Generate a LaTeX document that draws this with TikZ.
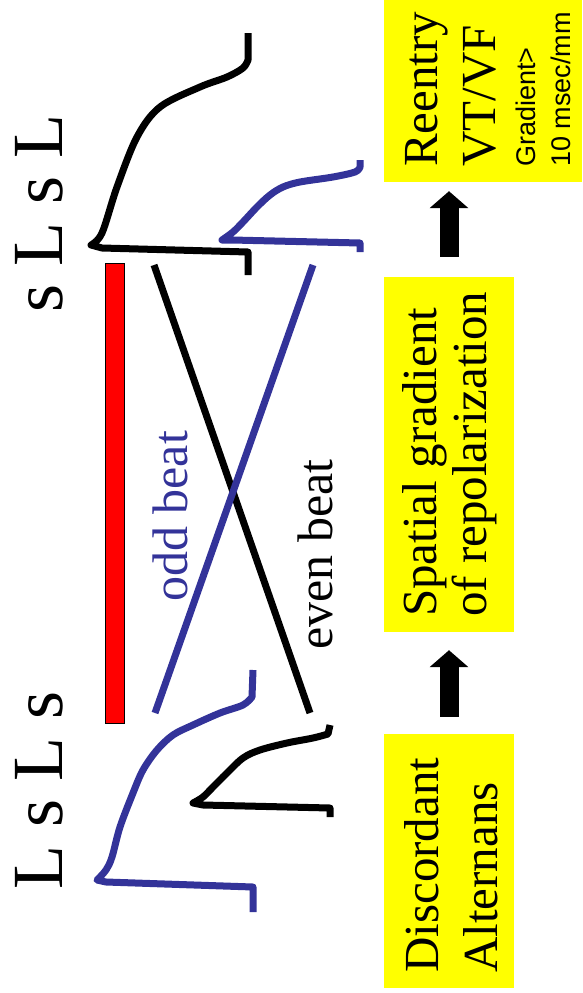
\documentclass[tikz,border=0pt]{standalone}
\usepackage{fontspec}
\setmainfont{Liberation Serif}
\newfontfamily\sansf{Liberation Sans}
\usetikzlibrary{arrows.meta}
\definecolor{apblue}{RGB}{51,51,153}
\definecolor{boxyellow}{RGB}{255,255,0}
\begin{document}
\begin{tikzpicture}[x=1pt,y=-1pt,
  trace/.style={line width=7pt, line join=round, line cap=butt},
  ybox/.style={fill=boxyellow, draw=none, inner sep=0pt, rectangle},
  vtext/.style={rotate=90, anchor=base west, inner sep=0pt},
  bigserif/.style={vtext, font=\fontsize{49}{49}\selectfont},
  smallsans/.style={vtext, font=\sansf\fontsize{27}{27}\selectfont},
  beatlabel/.style={vtext, font=\fontsize{50}{50}\selectfont},
  seqlabel/.style={vtext, font=\fontsize{72}{72}\selectfont},
  blockarrow/.style={line width=19pt, -{Triangle[length=17pt,width=38pt]}}
]
\useasboundingbox (0,0) rectangle (582,993);

% yellow text boxes
\node[ybox, minimum width=198pt, minimum height=182pt] (reentry) at (483,91) {};
\node[ybox, minimum width=130pt, minimum height=355pt] (spatial) at (449,454.5) {};
\node[ybox, minimum width=130pt, minimum height=254pt] (disc) at (449,861) {};

\node[bigserif] (t1) at (437,167) {Reentry};
\node[bigserif] (t2) at (495,167) {VT/VF};
\node[smallsans] (t3) at (535,167) {Gradient>};
\node[smallsans] (t4) at (570,167) {10 msec/mm};

\node[bigserif] (s1) at (436,617) {Spatial gradient};
\node[bigserif] (s2) at (486,617) {of repolarization};

\node[bigserif] (d1) at (438,973) {Discordant};
\node[bigserif] (d2) at (497,973) {Alternans};

% block arrows between the boxes
\draw[blockarrow, shorten <=17pt, shorten >=18pt] (disc.north) -- (spatial.south);
\draw[blockarrow, shorten <=20pt, shorten >=9pt] (spatial.north) -- (spatial.north |- reentry.south);

% beat sequences
\node[seqlabel] (seqtop) at (62,313) {s L s L};
\node[seqlabel] (seqbot) at (62,890) {L s L s};

% red bar
\node[rectangle, fill=red, draw=black, line width=0.6pt, inner sep=0pt,
      minimum width=19pt, minimum height=460pt] (bar) at (114.5,493) {};

% action potential traces
\draw[trace, black] (248,275) -- (248,252) -- (102,248)
  -- plot[smooth, tension=0.55] coordinates {(91,245) (102,233) (117,187) (137,137) (160,107) (200,87) (227,77) (243,68) (248,60)}
  -- (248,33);
\draw[trace, apblue] (360,252) -- (360,243) -- (232,240)
  -- plot[smooth, tension=0.55] coordinates {(222,240) (233,232) (243,222) (257,207) (270,195) (283,187) (300,182) (333,177) (355,172) (360,167)}
  -- (360,160);
\draw[trace, apblue] (253,912) -- (253,887) -- (106,882)
  -- plot[smooth, tension=0.55] coordinates {(97,880) (106,870) (112,857) (120,827) (133,793) (143,770) (157,750) (173,735) (193,725) (220,713) (243,705) (252,697)}
  -- (253,670);
\draw[trace, black] (330,817) -- (330,808) -- (203,805)
  -- plot[smooth, tension=0.55] coordinates {(193,803) (203,797) (213,787) (227,773) (243,758) (260,750) (287,743) (313,738) (328,734)}
  -- (330,725);

% repolarization lines
\coordinate (evenA) at (154,265);
\coordinate (evenB) at (310,713);
\coordinate (oddA) at (313,265);
\coordinate (oddB) at (155,713);
\draw[trace, black] (evenA) -- (evenB);
\draw[trace, apblue] (oddA) -- (oddB);

\node[beatlabel, text=apblue] (odd) at (187,602) {odd beat};
\node[beatlabel, text=black] (even) at (332,650) {even beat};
\end{tikzpicture}
\end{document}
